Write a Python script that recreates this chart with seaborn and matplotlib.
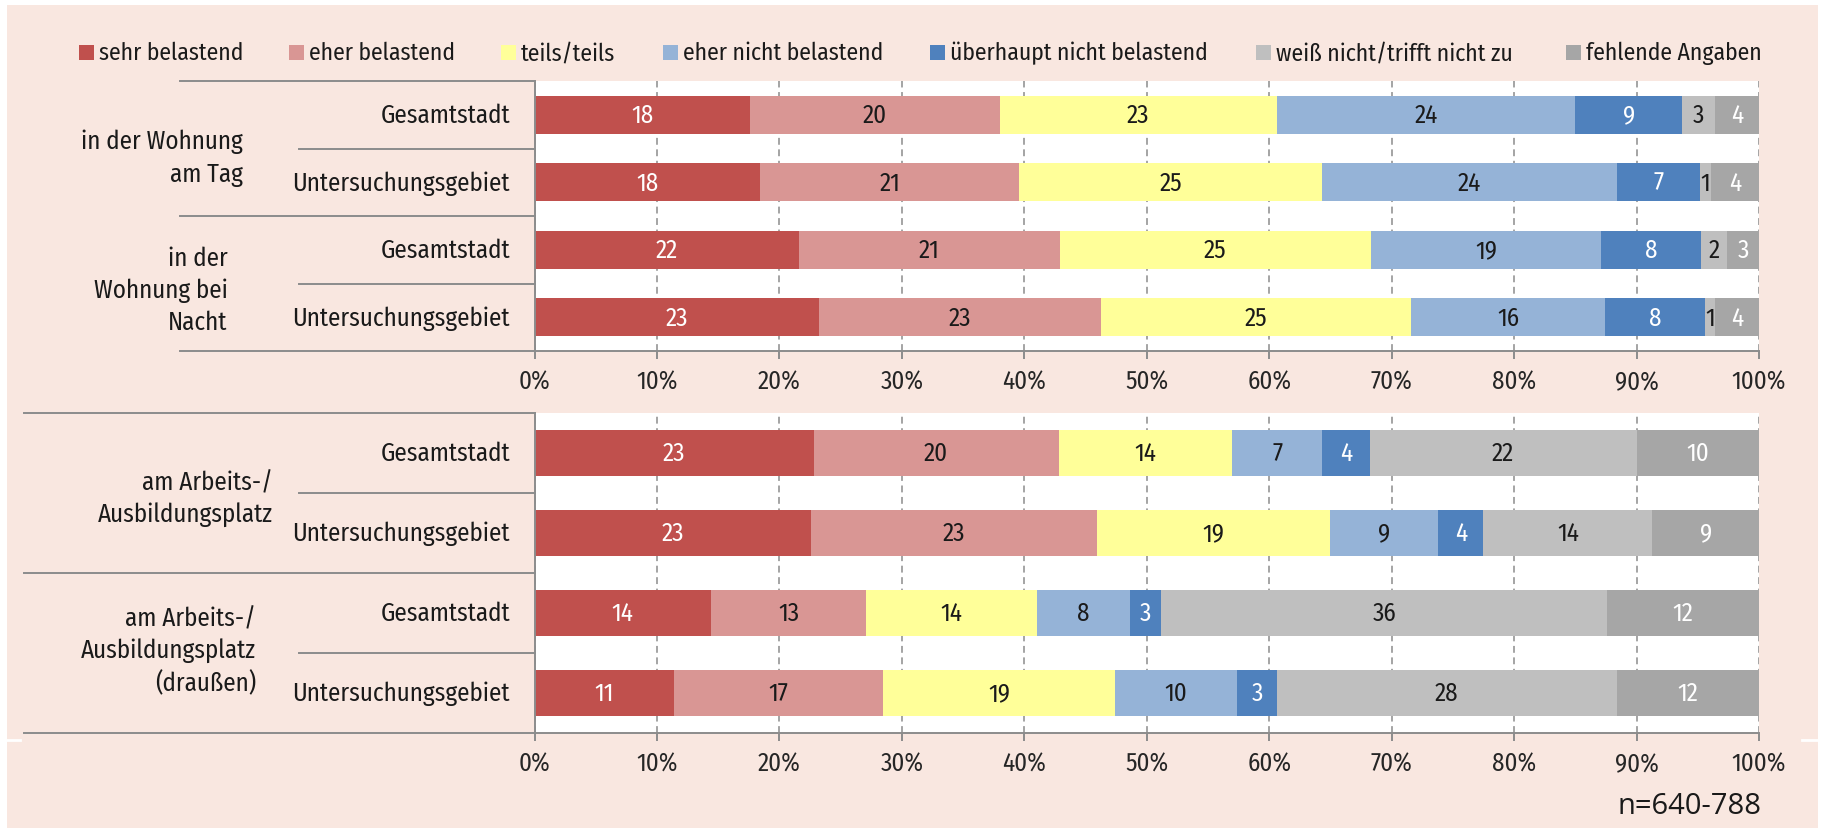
import pandas as pd
import seaborn as sns
import matplotlib.pyplot as plt
import matplotlib.transforms as mtransforms
from matplotlib.patches import Rectangle
from matplotlib.lines import Line2D

# answer categories (stack order, left to right)
categories = ['sehr belastend', 'eher belastend', 'teils/teils', 'eher nicht belastend',
              'überhaupt nicht belastend', 'weiß nicht/trifft nicht zu', 'fehlende Angaben']
colors = ['#C0504D', '#D99694', '#FFFF99', '#95B3D7', '#4F81BD', '#BFBFBF', '#A6A6A6']
label_colors = ['white', '#1a1a1a', '#1a1a1a', '#1a1a1a', 'white', '#1a1a1a', 'white']

groups = ['in der Wohnung\nam Tag', 'in der\nWohnung bei\nNacht',
          'am Arbeits-/\nAusbildungsplatz', 'am Arbeits-/\nAusbildungsplatz\n(draußen)']
areas = ['Gesamtstadt', 'Untersuchungsgebiet']
x_ticks = [0, 10, 20, 30, 40, 50, 60, 70, 80, 90, 100]
tick_labels = ['0%', '10%', '20%', '30%', '40%', '50%', '60%', '70%', '80%', '90%', '100%']
note = 'n=640-788'

# shares in % per row (rows: group x area, top to bottom)
sehr_belastend = [17.6, 18.4, 21.6, 23.2, 22.8, 22.6, 14.4, 11.4]
eher_belastend = [20.4, 21.2, 21.3, 23.1, 20.0, 23.3, 12.7, 17.1]
teils_teils = [22.6, 24.7, 25.4, 25.3, 14.2, 19.1, 13.9, 18.9]
eher_nicht = [24.4, 24.1, 18.8, 15.8, 7.3, 8.8, 7.6, 10.0]
ueberhaupt_nicht = [8.7, 6.8, 8.2, 8.2, 3.9, 3.7, 2.6, 3.2]
weiss_nicht = [2.7, 0.9, 2.1, 0.8, 21.8, 13.8, 36.4, 27.8]
fehlend = [3.6, 3.9, 2.6, 3.6, 10.0, 8.7, 12.4, 11.6]

series = [sehr_belastend, eher_belastend, teils_teils, eher_nicht,
          ueberhaupt_nicht, weiss_nicht, fehlend]

FONT = ['Fira Sans Condensed', 'Roboto Condensed', 'PT Sans Narrow', 'DejaVu Sans']
plt.rcParams['font.family'] = FONT
TXT = '#1a1a1a'
GRID = '#8c8c8c'
BG = '#F9E7E0'

df = pd.DataFrame(dict(zip(categories, series)))
df['row'] = [f'{g}|{a}' for g in groups for a in areas]

W, H = 1825, 829
fig = plt.figure(figsize=(W / 100, H / 100), dpi=100)
fig.patch.set_facecolor('white')
fig.add_artist(Rectangle((7 / W, 0), (1818 - 7) / W, 1 - 6 / H, transform=fig.transFigure,
                         facecolor=BG, edgecolor='none', zorder=-10))
for xs in ([0, 20 / W], [1802 / W, 1]):
    fig.add_artist(Line2D(xs, [1 - 741 / H] * 2, color='white', lw=2, zorder=-5))

ax_left = 534.5 / W
ax_width = (1759 - 534.5) / W
ax_top = fig.add_axes([ax_left, 1 - 352 / H, ax_width, 270 / H])
ax_bot = fig.add_axes([ax_left, 1 - 734 / H, ax_width, 320 / H])

# (axes, rows, group labels, start of long lines, right edge of group labels, group label y)
panels = [(ax_top, df.iloc[0:4].reset_index(drop=True), groups[0:2], 180 / W, [243, 227.5], [0.63, 2.59]),
          (ax_bot, df.iloc[4:8].reset_index(drop=True), groups[2:4], 24 / W, [273, 256], [0.56, 2.47])]

for ax, sub, grp, long_x0, grp_right, grp_y in panels:
    order = list(sub['row'])
    cum = sub[categories].cumsum(axis=1)
    # overlay cumulative bars, widest first
    for i in reversed(range(len(categories))):
        d = pd.DataFrame({'end': cum[categories[i]], 'row': sub['row']})
        sns.barplot(data=d, x='end', y='row', order=order, orient='h', color=colors[i],
                    saturation=1, width=0.57, errorbar=None, linewidth=0, ax=ax)
    for j in range(len(sub)):
        start = 0
        for i, cat in enumerate(categories):
            v = sub.loc[j, cat]
            ax.text(start + v / 2, j, str(int(round(v))), ha='center', va='center',
                    fontsize=18, color=label_colors[i])
            start += v

    ax.set_facecolor('white')
    ax.set_xlim(0, 100)
    ax.set_ylim(3.5, -0.5)
    ax.set_xticks(x_ticks)
    ax.set_xticklabels(tick_labels)
    ax.set_yticks([])
    ax.set_xlabel('')
    ax.set_ylabel('')
    ax.xaxis.grid(True, linestyle=(0, (4.5, 3)), color=GRID, lw=1.1)
    ax.set_axisbelow(True)
    for s in ['top', 'right']:
        ax.spines[s].set_visible(False)
    for s in ['left', 'bottom']:
        ax.spines[s].set_color(GRID)
        ax.spines[s].set_linewidth(1.4)
    ax.tick_params(axis='x', direction='out', length=6, width=1.4, color=GRID,
                   labelsize=18, labelcolor='#262626', pad=7)

    # table on the left
    trans = mtransforms.blended_transform_factory(fig.transFigure, ax.transData)
    for y, x0 in [(-0.5, long_x0), (0.5, 299 / W), (1.5, long_x0), (2.5, 299 / W), (3.5, long_x0)]:
        fig.add_artist(Line2D([x0, ax_left], [y, y], transform=trans, color=GRID, lw=1.4))
    for j in range(len(sub)):
        fig.text(510 / W, j, areas[j % 2], transform=trans, ha='right', va='center',
                 fontsize=18, color=TXT)
    for k, g in enumerate(grp):
        fig.text(grp_right[k] / W, grp_y[k], g, transform=trans, ha='right', va='center',
                 multialignment='right', fontsize=18, color=TXT, linespacing=1.37)

# legend row: colour square + label
legend_x = [79, 289, 501, 663, 930, 1256, 1566]
ly = 1 - 53.5 / H
for x, c, lab in zip(legend_x, colors, categories):
    fig.add_artist(Rectangle((x / W, ly - 7.5 / H), 15 / W, 15 / H, transform=fig.transFigure,
                             facecolor=c, edgecolor='none'))
    fig.text((x + 20) / W, ly, lab, ha='left', va='center', fontsize=17, color=TXT)

fig.text(1690 / W, 1 - 807 / H, note, ha='center', va='center', fontsize=21,
         family=['Open Sans', 'DejaVu Sans'], color=TXT)

fig.savefig('out.png', dpi=100)
